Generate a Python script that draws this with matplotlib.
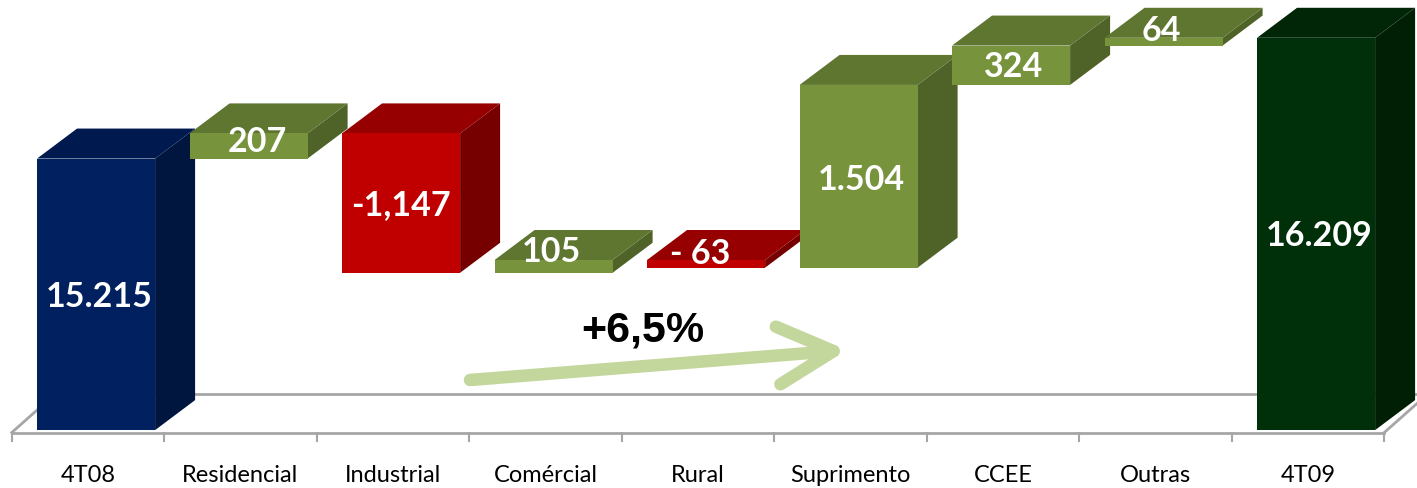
import matplotlib
matplotlib.use('Agg')
import matplotlib.pyplot as plt
from matplotlib.patches import Polygon
import numpy as np

# data
categories = ['4T08', 'Residencial', 'Industrial', 'Comércial', 'Rural',
              'Suprimento', 'CCEE', 'Outras', '4T09']
start_value = 15215
changes = [207, -1147, 105, -63, 1504, 324, 64]
end_value = 16209
value_labels = ['15.215', '207', '-1,147', '105', '- 63', '1.504', '324', '64', '16.209']
growth_label = '+6,5%'

# styles
blue = ('#002060', '#001a4f', '#00163f')      # front, top, side
green = ('#77933c', '#5f7631', '#4f6228')
red = ('#c00000', '#960000', '#760000')
dgreen = ('#00300a', '#002607', '#001f05')
grid_gray = '#a6a6a6'
font_lbl = ['Lato', 'DejaVu Sans']

W, H = 1417, 488
px_per_unit = 0.1215
slot = 152.5
y_top = 16520
y_bottom = y_top - H / px_per_unit
x_left = -88 / slot
x_right = x_left + W / slot

base = 12980                 # axis minimum where the bars sit
bar_w = 0.774
bar_shift = 0.053
depth_x = 40 / slot
depth_y = 30 / px_per_unit

# waterfall spans
bottoms, tops, colors = [], [], []
bottoms.append(base); tops.append(start_value); colors.append(blue)
level = start_value
for c in changes:
    lo, hi = sorted([level, level + c])
    bottoms.append(lo); tops.append(hi)
    colors.append(green if c > 0 else red)
    level += c
bottoms.append(base); tops.append(end_value); colors.append(dgreen)

fig = plt.figure(figsize=(W / 100, H / 100), dpi=100)
ax = fig.add_axes([0, 0, 1, 1])
ax.set_xlim(x_left, x_right)
ax.set_ylim(y_bottom, y_top)
ax.axis('off')

# floor
n = len(categories)
floor_front = base - 20
floor_back = floor_front + 39 / px_per_unit
floor_dx = 44 / slot
ax.plot([-0.5, n - 0.5], [floor_front, floor_front], color=grid_gray, lw=2, zorder=1)
ax.plot([-0.5 + floor_dx, n - 0.5 + floor_dx], [floor_back, floor_back], color=grid_gray, lw=2, zorder=1)
ax.plot([-0.5, -0.5 + floor_dx], [floor_front, floor_back], color=grid_gray, lw=2, zorder=1)
ax.plot([n - 0.5, n - 0.5 + floor_dx], [floor_front, floor_back], color=grid_gray, lw=2, zorder=1)
for b in np.arange(-0.5, n, 1.0):
    ax.plot([b, b], [floor_front, floor_front - 8 / px_per_unit], color=grid_gray, lw=1.5, zorder=1)

# bars, left to right so later ones cover earlier side faces
for i in range(n):
    x0 = i + bar_shift - bar_w / 2
    x1 = x0 + bar_w
    b, t = bottoms[i], tops[i]
    front, top, side = colors[i]
    z = 3 + i
    ax.add_patch(Polygon([(x1, b), (x1 + depth_x, b + depth_y), (x1 + depth_x, t + depth_y), (x1, t)],
                         closed=True, facecolor=side, edgecolor='none', zorder=z))
    ax.add_patch(Polygon([(x0, t), (x0 + depth_x, t + depth_y), (x1 + depth_x, t + depth_y), (x1, t)],
                         closed=True, facecolor=top, edgecolor='none', zorder=z))
    ax.add_patch(Polygon([(x0, b), (x1, b), (x1, t), (x0, t)],
                         closed=True, facecolor=front, edgecolor='none', zorder=z))

# value labels
label_dx = [3, 9, 0, -2, -6, 3, 2, -2, 3]
label_dy = [-3, 4, -2, 14, 10, -4, -2, 11, -2]
for i in range(n):
    xc = i + bar_shift
    yc = (bottoms[i] + tops[i]) / 2
    ax.annotate(value_labels[i], xy=(xc, yc), xytext=(label_dx[i], label_dy[i]),
                textcoords='offset pixels', ha='center', va='center',
                color='white', fontsize=24.5, fontweight='bold', family=font_lbl, zorder=20)

# category labels
for i, cat in enumerate(categories):
    ax.text(i, 1 - 476 / H, cat, transform=ax.get_xaxis_transform(),
            ha='center', va='center', fontsize=17, family=font_lbl, color='black')

# growth arrow
ax.annotate('', xy=(847 / W, 1 - 350 / H), xytext=(470 / W, 1 - 380 / H),
            xycoords='axes fraction', textcoords='axes fraction',
            arrowprops=dict(arrowstyle='->,head_length=2.5,head_width=1.3', mutation_scale=16,
                            lw=9, color='#c3d69b', shrinkA=0, shrinkB=0,
                            capstyle='round', joinstyle='round'), zorder=2)
ax.text(643 / W, 1 - 330 / H, growth_label, transform=ax.transAxes, ha='center', va='center',
        fontsize=31, fontweight='bold', family=['Liberation Sans', 'DejaVu Sans'], color='black')

fig.savefig('out.png', dpi=100)
